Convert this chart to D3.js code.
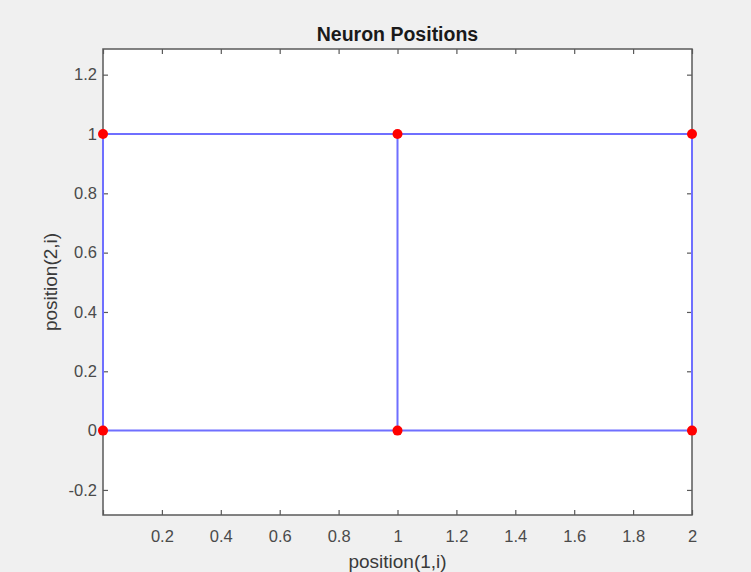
<!DOCTYPE html>
<html>
<head>
<meta charset="utf-8">
<script src="https://cdn.jsdelivr.net/npm/d3@7"></script>
<style>
  html, body { margin: 0; padding: 0; background: #f0f0f0; }
  svg { display: block; font-family: "Liberation Sans", Arial, sans-serif; }
</style>
</head>
<body>
<svg id="chart" width="751" height="572"></svg>
<script>
// Neuron grid (2 x 3 layer): x and y coordinates of each neuron
const neuronX = [0, 1, 2, 0, 1, 2];
const neuronY = [0, 0, 0, 1, 1, 1];
// Pairs of neighbouring neurons joined by an edge
const edges = [[0, 1], [1, 2], [3, 4], [4, 5], [0, 3], [1, 4], [2, 5]];
// Tick values and their labels
const xTicks = [0, 0.2, 0.4, 0.6, 0.8, 1, 1.2, 1.4, 1.6, 1.8, 2];
const xTickLabels = ["", "0.2", "0.4", "0.6", "0.8", "1", "1.2", "1.4", "1.6", "1.8", "2"];
const yTicks = [-0.2, 0, 0.2, 0.4, 0.6, 0.8, 1, 1.2];
const yTickLabels = ["-0.2", "0", "0.2", "0.4", "0.6", "0.8", "1", "1.2"];

const svg = d3.select("#chart");
const box = { left: 103, right: 692, top: 49, bottom: 515 };

const x = d3.scaleLinear().domain([0, 2]).range([box.left, box.right]);
const y = d3.scaleLinear().domain([-0.2845, 1.2865]).range([box.bottom, box.top]);

// plot area
svg.append("rect")
  .attr("x", box.left).attr("y", box.top)
  .attr("width", box.right - box.left).attr("height", box.bottom - box.top)
  .attr("fill", "#ffffff");

const tickLen = 5;
const axisColor = "#5a5a5a";

// bottom axis (labels) and mirrored top ticks
const xAxis = d3.axisBottom(x).tickValues(xTicks)
  .tickSize(-tickLen).tickPadding(15)
  .tickFormat((d, i) => xTickLabels[i]);
const gx = svg.append("g").attr("transform", `translate(0,${box.bottom})`).call(xAxis);
const gxt = svg.append("g").attr("transform", `translate(0,${box.top})`)
  .call(d3.axisTop(x).tickValues(xTicks).tickSize(-tickLen).tickFormat(""));

// left axis (labels) and mirrored right ticks
const yAxis = d3.axisLeft(y).tickValues(yTicks)
  .tickSize(-tickLen).tickPadding(6).tickFormat((d, i) => yTickLabels[i]);
const gy = svg.append("g").attr("transform", `translate(${box.left},0)`).call(yAxis);
const gyr = svg.append("g").attr("transform", `translate(${box.right},0)`)
  .call(d3.axisRight(y).tickValues(yTicks).tickSize(-tickLen).tickFormat(""));

[gx, gxt, gy, gyr].forEach(g => {
  g.select(".domain").remove();
  g.selectAll(".tick line").attr("stroke", axisColor).attr("stroke-width", 1.2);
  g.selectAll(".tick text").attr("fill", "#4a4a4a").style("font-size", "16.5px")
    .style("font-family", "'Liberation Sans', Arial, sans-serif");
});

// axes box outline
svg.append("rect")
  .attr("x", box.left).attr("y", box.top)
  .attr("width", box.right - box.left).attr("height", box.bottom - box.top)
  .attr("fill", "none").attr("stroke", axisColor).attr("stroke-width", 1.5);

// edges between neighbouring neurons
svg.append("g").selectAll("line").data(edges).join("line")
  .attr("x1", d => x(neuronX[d[0]])).attr("y1", d => y(neuronY[d[0]]))
  .attr("x2", d => x(neuronX[d[1]])).attr("y2", d => y(neuronY[d[1]]))
  .attr("stroke", "#6f6fff").attr("stroke-width", 2);

// neuron markers
svg.append("g").selectAll("circle").data(neuronX).join("circle")
  .attr("cx", (d, i) => x(neuronX[i])).attr("cy", (d, i) => y(neuronY[i]))
  .attr("r", 5).attr("fill", "#ff0000");

// title and axis labels
svg.append("text")
  .attr("x", (box.left + box.right) / 2).attr("y", 41)
  .attr("text-anchor", "middle").attr("font-weight", "bold")
  .attr("font-size", 19.5).attr("fill", "#1a1a1a")
  .text("Neuron Positions");

svg.append("text")
  .attr("x", (box.left + box.right) / 2).attr("y", 568)
  .attr("text-anchor", "middle").attr("font-size", 19).attr("fill", "#3a3a3a")
  .text("position(1,i)");

svg.append("text")
  .attr("transform", `translate(57,${(box.top + box.bottom) / 2}) rotate(-90)`)
  .attr("text-anchor", "middle").attr("font-size", 19).attr("fill", "#3a3a3a")
  .text("position(2,i)");
</script>
</body>
</html>
